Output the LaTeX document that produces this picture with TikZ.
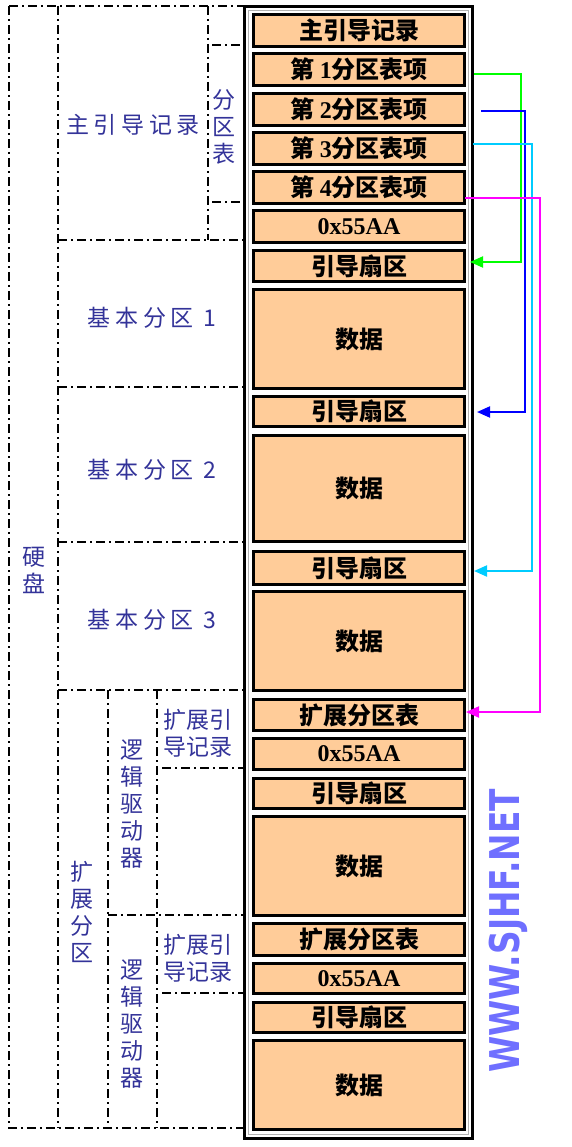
\documentclass[tikz,border=0pt]{standalone}
\usepackage{fontspec}
\usepackage{graphicx}
\usetikzlibrary{arrows.meta}
\newfontfamily\cjkfont{Noto Sans CJK SC}
\newfontfamily\numfont{Liberation Serif}
\newfontfamily\wmfont{DejaVu Sans}
\definecolor{boxfill}{RGB}{255,204,153}
\definecolor{lblblue}{RGB}{51,51,153}
\definecolor{wmblue}{RGB}{111,111,255}
\definecolor{lkgreen}{RGB}{0,255,0}
\definecolor{lkblue}{RGB}{0,0,255}
\definecolor{lkcyan}{RGB}{0,204,255}
\definecolor{lkmagenta}{RGB}{255,0,255}
\tikzset{
  partbox/.style={draw, line width=3pt, fill=boxfill, minimum width=211pt, inner sep=0pt,
    font=\cjkfont\bfseries\fontsize{24}{24}\selectfont},
  divline/.style={line width=1.5pt, dash pattern=on 9pt off 4pt on 2pt off 4pt},
  hlabel/.style={text=lblblue, font=\cjkfont\fontsize{23}{27}\selectfont\addfontfeature{LetterSpace=20}},
  vlabel/.style={text=lblblue, align=center, font=\cjkfont\fontsize{23}{27}\selectfont},
  link/.style={line width=2pt, -{Triangle[length=13pt,width=11pt]}},
}
\begin{document}
\begin{tikzpicture}[x=1pt,y=-1pt]
  \useasboundingbox (0,0) rectangle (571,1147);
  % disk frame
  \draw[line width=3pt] (244.5,6.5) rectangle (472.5,1138.5);
  \draw[gray!60, line width=0.8pt] (248.5,10.5) rectangle (468.5,1134.5);
  % sectors
  \foreach \n/\t/\b/\txt in {mbr/13/48/{主引导记录},
      pte1/52/87/{第 {\numfont 1}分区表项}, pte2/92/127/{第 {\numfont 2}分区表项},
      pte3/131/166/{第 {\numfont 3}分区表项}, pte4/170/205/{第 {\numfont 4}分区表项},
      sig0/209/244/{\numfont 0x55AA},
      boot1/249/283/{引导扇区}, data1/288/390/{数据},
      boot2/395/428/{引导扇区}, data2/434/543/{数据},
      boot3/550/586/{引导扇区}, data3/590/692/{数据},
      ebr1/698/732/{扩展分区表}, sig1/737/771/{\numfont 0x55AA},
      boot4/777/810/{引导扇区}, data4/815/917/{数据},
      ebr2/922/957/{扩展分区表}, sig2/962/995/{\numfont 0x55AA},
      boot5/1001/1034/{引导扇区}, data5/1039/1131/{数据}}
    \node[partbox, minimum height={\b-\t-3}] (\n) at (359,{(\t+\b)/2}) {\txt};
  % layout columns
  \draw[divline] (9,6) -- (243,6);
  \draw[divline] (9,6) -- (9,1128) -- (243,1128);
  \draw[divline] (58,6) -- (58,1128);
  \draw[divline] (208,6) -- (208,240);
  \draw[divline] (212,45) -- (243,45);
  \draw[divline] (212,202) -- (243,202);
  \foreach \y in {240,387,542,690}
    \draw[divline] (58,\y) -- (243,\y);
  \draw[divline] (108,690) -- (108,1128);
  \draw[divline] (157,690) -- (157,1128);
  \draw[divline] (162,768) -- (243,768);
  \draw[divline] (108,915) -- (243,915);
  \draw[divline] (162,993) -- (243,993);
  % labels
  \node[vlabel] (disk) at (34,570) {硬\\盘};
  \node[hlabel] (mbrlbl) at (133,125) {主引导记录};
  \node[vlabel] (ptlbl) at (224,127) {分\\区\\表};
  \node[hlabel] (prim1) at (152,318) {基本分区 1};
  \node[hlabel] (prim2) at (152,470) {基本分区 2};
  \node[hlabel] (prim3) at (152,620) {基本分区 3};
  \node[vlabel] (extlbl) at (82,912) {扩\\展\\分\\区};
  \node[vlabel] (ldrv1) at (132,804) {逻\\辑\\驱\\动\\器};
  \node[vlabel] (ldrv2) at (132,1024) {逻\\辑\\驱\\动\\器};
  \node[vlabel] (ebrlbl1) at (198,733) {扩展引\\导记录};
  \node[vlabel] (ebrlbl2) at (198,958) {扩展引\\导记录};
  % watermark
  \node[rotate=90, text=wmblue, font=\wmfont\bfseries\fontsize{41}{41}\selectfont] (site) at (508,931)
    {\scalebox{0.8}[1]{WWW.SJHF.NET}};
  % partition table links
  \coordinate (turn1) at (521,0);
  \coordinate (turn2) at (525,0);
  \coordinate (turn3) at (532,0);
  \coordinate (turn4) at (540,0);
  \coordinate (s1) at ([shift={(8,4.5)}]pte1.east);
  \coordinate (t1) at ([shift={(4,-4)}]boot1.east);
  \coordinate (s2) at ([shift={(15,1.5)}]pte2.east);
  \coordinate (t2) at ([shift={(11,0.5)}]boot2.east);
  \coordinate (s3) at ([shift={(7,-4.5)}]pte3.east);
  \coordinate (t3) at ([shift={(8,3)}]boot3.east);
  \coordinate (s4) at ([shift={(-1,10.5)}]pte4.east);
  \coordinate (t4) at ([shift={(0,-3)}]ebr1.east);
  \draw[link, lkgreen] (s1) -| (turn1 |- t1) -- (t1);
  \draw[link, lkblue] (s2) -| (turn2 |- t2) -- (t2);
  \draw[link, lkcyan] (s3) -| (turn3 |- t3) -- (t3);
  \draw[link, lkmagenta] (s4) -| (turn4 |- t4) -- (t4);
\end{tikzpicture}
\end{document}
